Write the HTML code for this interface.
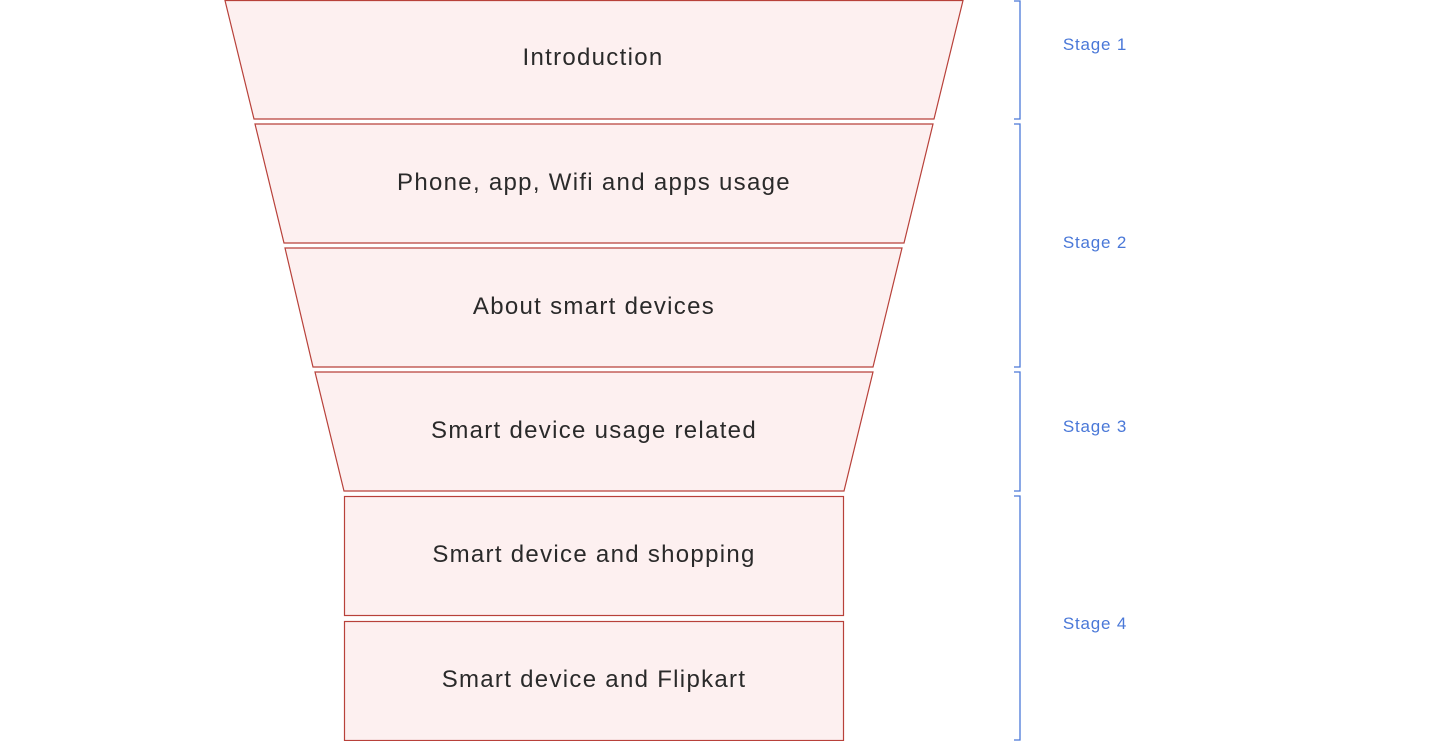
<!DOCTYPE html>
<html><head><style>body{margin:0;background:#fff;width:1440px;height:741px;overflow:hidden}</style></head>
<body>
<svg width="1440" height="741" xmlns="http://www.w3.org/2000/svg" font-family="Liberation Sans, sans-serif">
<g fill="#fdf0f0" stroke="#b8413a" stroke-width="1.2">
<polygon points="225,0.5 963,0.5 934,119 254,119"/>
<polygon points="255,124 933,124 904,243 284,243"/>
<polygon points="285,248 902,248 873,367 313,367"/>
<polygon points="315,372 873,372 844,491 344,491"/>
<rect x="344.5" y="496.5" width="499" height="119"/>
<rect x="344.5" y="621.5" width="499" height="119"/>
</g>
<g fill="#2a2a2a" font-size="24" letter-spacing="1.3" text-anchor="middle">
<text x="593" y="65">Introduction</text>
<text x="594" y="190">Phone, app, Wifi and apps usage</text>
<text x="594" y="314">About smart devices</text>
<text x="594" y="438">Smart device usage related</text>
<text x="594" y="562">Smart device and shopping</text>
<text x="594" y="687">Smart device and Flipkart</text>
</g>
<g fill="none" stroke="#4a78d8" stroke-width="1.3">
<path d="M1014,1 H1020 V119 H1014"/>
<path d="M1014,124 H1020 V367 H1014"/>
<path d="M1014,372 H1020 V491 H1014"/>
<path d="M1014,496 H1020 V740 H1014"/>
</g>
<g fill="#4a78d8" font-size="17" letter-spacing="0.8" text-anchor="middle">
<text x="1095" y="50">Stage 1</text>
<text x="1095" y="248">Stage 2</text>
<text x="1095" y="432">Stage 3</text>
<text x="1095" y="629">Stage 4</text>
</g>
</svg>
</body></html>
